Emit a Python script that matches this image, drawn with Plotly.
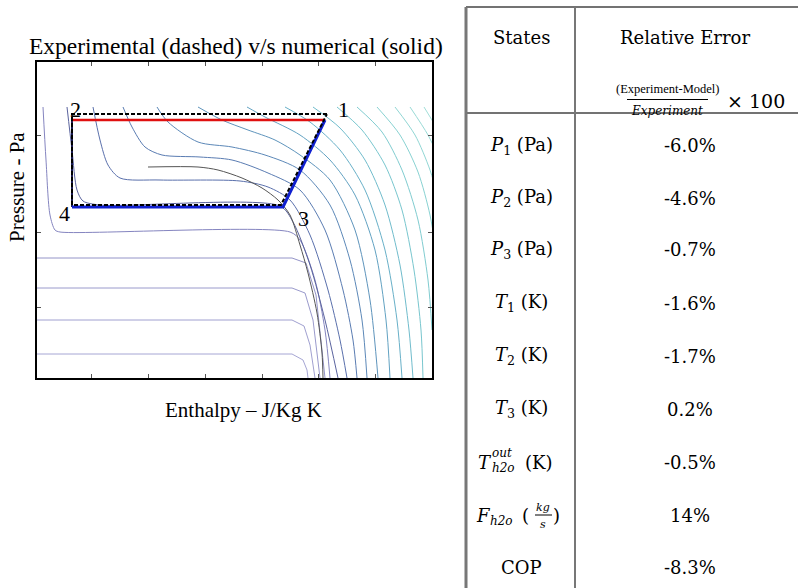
import plotly.graph_objects as go

W, H = 798, 588

# ---------------- data (arbitrary enthalpy / pressure units) -------------
state_labels = ["1", "2", "3", "4"]
num_h = [288, 35, 246, 35]          # numerical states 1..4
num_p = [258, 258, 171, 171]
exp_h = [290, 35, 244, 35]          # experimental states 1..4
exp_p = [264, 264, 173, 173]

# lower isotherms (liquid side)
L1_h = [0, 255, 266, 270, 271]
L1_p = [24, 24, 18, 8, 0]
L2_h = [0, 255, 267, 273, 278]
L2_p = [58, 58, 52, 33, 0]
L3_h = [0, 255, 268, 276, 283]
L3_p = [90, 90, 85, 58, 0]
L4_h = [0, 255, 269, 279, 288]
L4_p = [120, 120, 115, 83, 0]
L5_h = [6, 9, 13, 18, 23, 253, 263, 278, 288, 293]
L5_p = [271, 218, 163, 148, 146, 146, 138, 98, 48, 0]
# two-phase / vapour isotherms
M1_h = [30, 35, 40, 46, 63, 243, 256, 273, 288, 301]
M1_p = [271, 228, 188, 177, 173, 172, 156, 113, 58, 0]
M2_h = [56, 63, 71, 83, 123, 203, 231, 253, 273, 291, 303, 310]
M2_p = [271, 238, 213, 200, 198, 197, 191, 178, 143, 88, 38, 0]
M3_h = [86, 95, 108, 125, 163, 195, 231, 263, 288, 306, 316, 320]
M3_p = [271, 251, 231, 223, 221, 218, 205, 188, 148, 88, 38, 0]
M4_h = [120, 131, 161, 195, 228, 263, 293, 313, 325, 330]
M4_p = [271, 256, 236, 231, 223, 208, 173, 118, 58, 0]
M5_h = [161, 185, 211, 238, 263, 293, 318, 333, 341]
M5_p = [271, 258, 248, 238, 223, 198, 148, 78, 0]
M6_h = [210, 228, 263, 293, 318, 338, 349, 353]
M6_p = [271, 261, 243, 218, 183, 128, 58, 0]
M7_h = [248, 273, 303, 328, 348, 360, 365]
M7_p = [271, 256, 228, 188, 128, 58, 0]
R1_h = [276, 303, 328, 348, 363, 372, 376]
R1_p = [271, 250, 218, 173, 113, 48, 0]
R2_h = [300, 325, 348, 365, 377, 384, 386]
R2_p = [271, 248, 213, 168, 108, 48, 0]
R3_h = [320, 345, 365, 381, 391, 395]
R3_p = [271, 246, 208, 158, 98, 48]
R4_h = [340, 363, 381, 393, 400]
R4_p = [271, 243, 206, 163, 120]
R5_h = [358, 378, 393, 403]
R5_p = [271, 243, 208, 173]
R6_h = [373, 391, 403]
R6_p = [271, 243, 218]
R7_h = [387, 398]
R7_p = [271, 253]
# saturation-like curve
G_h = [111, 161, 181, 205, 225, 241, 253, 263, 271, 280, 285, 286]
G_p = [211, 211, 208, 200, 190, 178, 163, 133, 105, 65, 25, 0]

# table
table_states = ["P1", "P2", "P3", "T1", "T2", "T3", "Tout", "F", "COP"]
table_errors = ["-6.0%", "-4.6%", "-0.7%", "-1.6%", "-1.7%", "0.2%", "-0.5%", "14%", "-8.3%"]

# ---------------- figure ----------------
fig = go.Figure()

iso = [
    (L1_h, L1_p, "#a6a6d4", "linear"), (L2_h, L2_p, "#a0a0d0", "linear"),
    (L3_h, L3_p, "#9a9acc", "linear"), (L4_h, L4_p, "#9494c8", "linear"),
    (L5_h, L5_p, "#8585c0", "spline"),
    (M1_h, M1_p, "#5a639e", "spline"), (M2_h, M2_p, "#5a70ac", "spline"),
    (M3_h, M3_p, "#5a7cb2", "spline"), (M4_h, M4_p, "#5c88b8", "spline"),
    (M5_h, M5_p, "#5e94bc", "spline"), (M6_h, M6_p, "#62a2c2", "spline"),
    (M7_h, M7_p, "#68b0c8", "spline"), (R1_h, R1_p, "#70bccc", "spline"),
    (R2_h, R2_p, "#78c6ce", "spline"), (R3_h, R3_p, "#80ccd0", "spline"),
    (R4_h, R4_p, "#88d2d2", "spline"), (R5_h, R5_p, "#90d6d4", "spline"),
    (R6_h, R6_p, "#98dad6", "spline"), (R7_h, R7_p, "#a0ded8", "spline"),
]
for hh, pp, col, shp in iso:
    fig.add_trace(go.Scatter(x=hh, y=pp, mode="lines",
                             line=dict(color=col, width=1, shape=shp, smoothing=0.8),
                             hoverinfo="skip", showlegend=False))
fig.add_trace(go.Scatter(x=G_h, y=G_p, mode="lines",
                         line=dict(color="#555555", width=1, shape="spline", smoothing=0.8),
                         hoverinfo="skip", showlegend=False))

# numerical cycle (solid)
fig.add_trace(go.Scatter(x=[num_h[1], num_h[3]], y=[num_p[1], num_p[3]], mode="lines",
                         line=dict(color="#1a1a50", width=2), showlegend=False))
fig.add_trace(go.Scatter(x=[num_h[0], num_h[1]], y=[num_p[0], num_p[1]], mode="lines",
                         line=dict(color="#e01010", width=2.5), showlegend=False))
fig.add_trace(go.Scatter(x=[num_h[3], num_h[2], num_h[0]], y=[num_p[3], num_p[2], num_p[0]],
                         mode="lines", line=dict(color="#1020d0", width=3), showlegend=False))
# experimental cycle (dashed)
fig.add_trace(go.Scatter(x=[exp_h[0], exp_h[1], exp_h[3], exp_h[2], exp_h[0]],
                         y=[exp_p[0], exp_p[1], exp_p[3], exp_p[2], exp_p[0]],
                         mode="lines", line=dict(color="black", width=2, dash="4px,2px"),
                         showlegend=False))

ann = []
shifts = [(18, 11), (3, 11), (20, -11), (-8, -6)]
for lab, hx, py_, (dx, dy) in zip(state_labels, num_h, num_p, shifts):
    ann.append(dict(x=hx, y=py_, xref="x", yref="y", text=lab, showarrow=False,
                    xshift=dx, yshift=dy, font=dict(family="Liberation Serif", size=22, color="black")))


def P(xp, yp):
    return xp / W, 1 - yp / H


def txt(xp, yp, s, size=18, family="DejaVu Serif", xanchor="center", angle=0):
    x, y = P(xp, yp)
    ann.append(dict(x=x, y=y, xref="paper", yref="paper", text=s, showarrow=False,
                    xanchor=xanchor, yanchor="middle", textangle=angle, borderpad=0,
                    font=dict(family=family, size=size, color="black")))


# chart titles
txt(236, 46, "Experimental (dashed) v/s numerical (solid)", 23.5, "Liberation Serif")
txt(243, 410, "Enthalpy – J/Kg K", 21, "Liberation Serif")
txt(17, 187, "Pressure - Pa", 21, "Liberation Serif", angle=-90)

# table header
txt(521, 38, "States")
txt(685, 38, "Relative Error")
txt(667, 89, "(Experiment-Model)", 12.5, "Liberation Serif")
txt(667, 111, "<i>Experiment</i>", 12)
txt(756, 101, "× 100", 19)

row_y = [146, 198, 250, 303, 356, 409, 462, 515, 567]
left_txt = {
    "P1": "<i>P</i><sub>1</sub> (Pa)",
    "P2": "<i>P</i><sub>2</sub> (Pa)",
    "P3": "<i>P</i><sub>3</sub> (Pa)",
    "T1": "<i>T</i><sub>1</sub> (K)",
    "T2": "<i>T</i><sub>2</sub> (K)",
    "T3": "<i>T</i><sub>3</sub> (K)",
    "COP": "COP",
}
for key, err, yy in zip(table_states, table_errors, row_y):
    if key in left_txt:
        txt(521, yy, left_txt[key])
    elif key == "Tout":
        txt(493, yy, "<i>T</i>", 18, xanchor="right")
        txt(491, yy - 9, "<i>out</i>", 12, xanchor="left")
        txt(491, yy + 6, "<i>h2o</i>", 12, xanchor="left")
        txt(524, yy, "(K)", 18, xanchor="left")
    elif key == "F":
        txt(492, yy, "<i>F</i>", 18, xanchor="right")
        txt(489, yy + 6, "<i>h2o</i>", 12, xanchor="left")
        txt(521, yy, "(", 18, xanchor="left")
        txt(543, yy - 8, "<i>kg</i>", 11)
        txt(543, yy + 9, "<i>s</i>", 11)
        txt(552, yy, ")", 18, xanchor="left")
    txt(690, yy, err)

shapes = []


def line(xa, ya, xb, yb, color="#333333", width=1.5):
    a = P(xa, ya)
    b = P(xb, yb)
    shapes.append(dict(type="line", xref="paper", yref="paper", x0=a[0], y0=a[1], x1=b[0], y1=b[1],
                       line=dict(color=color, width=width)))


line(466, 7, 798, 7, "#444444", 1.5)
line(466, 113, 798, 113, "#444444", 1.5)
line(466, 7, 466, 588, "#777777", 3)
line(575, 7, 575, 588, "#777777", 2)
line(535, 515, 552, 515, "black", 1)
line(627, 99.5, 708, 99.5, "black", 1)

fig.update_layout(
    width=W, height=H, margin=dict(l=0, r=0, t=0, b=0),
    paper_bgcolor="white", plot_bgcolor="white",
    annotations=ann, shapes=shapes, showlegend=False,
    xaxis=dict(domain=[37 / W, 432 / W], range=[0, 395], showgrid=False, zeroline=False,
               showline=True, linecolor="black", linewidth=2, mirror="ticks",
               ticks="inside", ticklen=4, tickcolor="#555555",
               tickvals=[54, 111, 168, 225, 281, 338], showticklabels=False),
    yaxis=dict(domain=[1 - 378 / H, 1 - 62 / H], range=[0, 316], showgrid=False, zeroline=False,
               showline=True, linecolor="black", linewidth=2, mirror="ticks",
               ticks="inside", ticklen=4, tickcolor="#555555",
               tickvals=[71, 146, 243], showticklabels=False),
)

fig.write_html("out.html")
